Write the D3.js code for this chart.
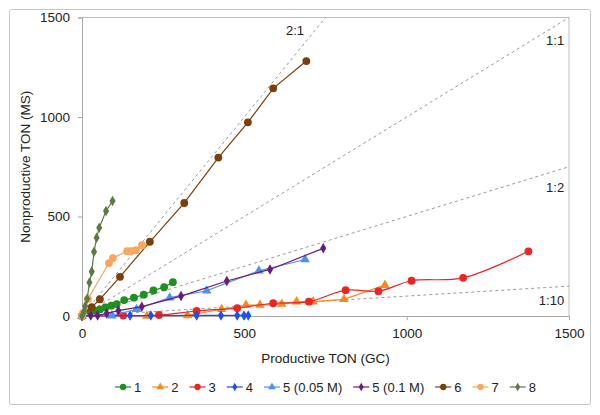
<!DOCTYPE html>
<html><head><meta charset="utf-8">
<script src="https://cdn.jsdelivr.net/npm/d3@7"></script>
<style>body{margin:0;background:#fff} text{font-family:"Liberation Sans",Arial,sans-serif;fill:#222}</style>
</head><body><svg id="c" width="600" height="415"></svg>
<script>
// ---- data ----
const seriesNames = ["1","2","3","4","5 (0.05 M)","5 (0.1 M)","6","7","8"];
const s1x = [0, 25, 40, 55, 72, 90, 107, 130, 160, 190, 220, 253, 280];
const s1y = [0, 22, 27, 33, 43, 52, 60, 80, 92, 107, 128, 145, 170];
const s2x = [0, 200, 325, 430, 505, 548, 615, 661, 712, 807, 933];
const s2y = [0, 0, 3, 34, 55, 55, 60, 72, 72, 84, 155];
const s3x = [0, 127, 237, 353, 478, 589, 699, 812, 913, 1015, 1174, 1375];
const s3y = [0, 2, 5, 25, 40, 64, 72, 130, 125, 177, 192, 325];
const s4x = [0, 148, 212, 353, 428, 478, 499, 512];
const s4y = [0, 2, 2, 3, 3, 3, 3, 3];
const s5ax = [0, 92, 168, 270, 384, 545, 687];
const s5ay = [0, 2, 34, 92, 127, 227, 284];
const s5bx = [0, 27, 48, 76, 112, 184, 305, 446, 579, 743];
const s5by = [0, 2, 2, 13, 27, 47, 100, 176, 234, 340];
const s6x = [0, 30, 55, 117, 209, 315, 420, 511, 589, 691];
const s6y = [0, 44, 84, 197, 373, 568, 796, 973, 1144, 1281];
const s7x = [0, 3, 18, 83, 95, 139, 151, 166, 185];
const s7y = [0, 15, 85, 266, 291, 326, 326, 331, 356];
const s8x = [0, 6, 10, 16, 23, 30, 37, 45, 53, 74, 94];
const s8y = [0, 20, 50, 87, 168, 223, 323, 393, 443, 528, 578];
const ticks = [0, 500, 1000, 1500];
const ratioNames = ["2:1", "1:1", "1:2", "1:10"];
const ratioSlopes = [2, 1, 0.5, 0.1];
const ratioLabelX = [656, 1485, 1485, 1485];
const ratioLabelY = [1435, 1385, 647, 80];

// ---- styling ----
const colors = ["#1f8f1f","#f58a23","#ee2424","#1c4fee","#4a94ec","#6d1a80","#7b3f0b","#f9a75c","#5e7a44"];
const shapes = [d3.symbolCircle,d3.symbolTriangle,d3.symbolCircle,d3.symbolDiamond,d3.symbolTriangle,d3.symbolDiamond,d3.symbolCircle,d3.symbolCircle,d3.symbolDiamond];
const sizes = [48,40,48,32,40,32,48,48,32];
const xs = [s1x,s2x,s3x,s4x,s5ax,s5bx,s6x,s7x,s8x];
const ys = [s1y,s2y,s3y,s4y,s5ay,s5by,s6y,s7y,s8y];

const svg = d3.select("#c");
const L=82, R=569, T=17.5, B=316;
const x = d3.scaleLinear([0,1500],[L,R]);
const y = d3.scaleLinear([0,1500],[B,T]);

// outer frame
svg.append("rect").attr("x",9.5).attr("y",9.5).attr("width",581).attr("height",395)
  .attr("fill","#fff").attr("stroke","#c6c6c6").attr("rx",2);

svg.append("clipPath").attr("id","clip").append("rect")
  .attr("x",L).attr("y",T).attr("width",R-L).attr("height",B-T);

// plot border top/right
svg.append("line").attr("x1",L).attr("x2",R).attr("y1",T).attr("y2",T).attr("stroke","#bdbdbd");
svg.append("line").attr("x1",R).attr("x2",R).attr("y1",T).attr("y2",B).attr("stroke","#bdbdbd");

// ratio lines
const gR = svg.append("g").attr("clip-path","url(#clip)");
ratioSlopes.forEach(s=>{
  gR.append("line").attr("x1",x(0)).attr("y1",y(0)).attr("x2",x(1500)).attr("y2",y(1500*s))
    .attr("stroke","#9a9a9a").attr("stroke-width",1).attr("stroke-dasharray","3,3");
});
ratioNames.forEach((n,i)=>{
  svg.append("text").attr("x",x(ratioLabelX[i])).attr("y",y(ratioLabelY[i])).attr("dy","0.35em")
    .attr("text-anchor", i===0?"middle":"end").attr("font-size",13).text(n);
});

// axes
const xAxis = svg.append("g").attr("transform",`translate(0,${B})`)
  .call(d3.axisBottom(x).tickValues(ticks).tickSize(4).tickPadding(8).tickFormat(d3.format("d")));
const yAxis = svg.append("g").attr("transform",`translate(${L},0)`)
  .call(d3.axisLeft(y).tickValues(ticks).tickSize(4).tickPadding(8).tickFormat(d3.format("d")));
[xAxis,yAxis].forEach(a=>{
  a.select(".domain").attr("stroke","#a8a8a8");
  a.selectAll(".tick line").attr("stroke","#a8a8a8");
  a.selectAll(".tick text").attr("font-size",13.5).attr("fill","#222").attr("font-family",'"Liberation Sans",Arial,sans-serif');
});

svg.append("text").attr("x",(L+R)/2).attr("y",363).attr("text-anchor","middle").attr("font-size",13.5).text("Productive TON (GC)");
svg.append("text").attr("transform",`translate(30,${(T+B)/2}) rotate(-90)`).attr("text-anchor","middle").attr("font-size",13.5).text("Nonproductive TON (MS)");

// series
const gS = svg.append("g");
seriesNames.forEach((n,i)=>{
  const pts = xs[i].map((v,j)=>[v,ys[i][j]]);
  const line = d3.line().x(d=>x(d[0])).y(d=>y(d[1]))
    .curve(i===2 ? d3.curveCatmullRom.alpha(0.5) : d3.curveLinear);
  gS.append("path").datum(pts).attr("d",line).attr("fill","none")
    .attr("stroke",colors[i]).attr("stroke-width",1.2);
  gS.selectAll(null).data(pts).enter().append("path")
    .attr("transform",d=>`translate(${x(d[0])},${y(d[1])})`)
    .attr("d",d3.symbol().type(shapes[i]).size(sizes[i])).attr("fill",colors[i]);
});

// legend
const lg = svg.append("g");
let cx = 0;
const gap = 11;
seriesNames.forEach((n,i)=>{
  const g = lg.append("g").attr("transform",`translate(${cx},0)`);
  g.append("line").attr("x1",0).attr("x2",16).attr("stroke",colors[i]).attr("stroke-width",1.2);
  g.append("path").attr("transform","translate(8,0)").attr("d",d3.symbol().type(shapes[i]).size(sizes[i]*0.65)).attr("fill",colors[i]);
  const t = g.append("text").attr("x",19).attr("dy","0.35em").attr("font-size",13).text(n);
  cx += 19 + t.node().getComputedTextLength() + gap;
});
const lw = cx - gap;
lg.attr("transform",`translate(${(L+R)/2 - lw/2},387)`);
</script></body></html>
